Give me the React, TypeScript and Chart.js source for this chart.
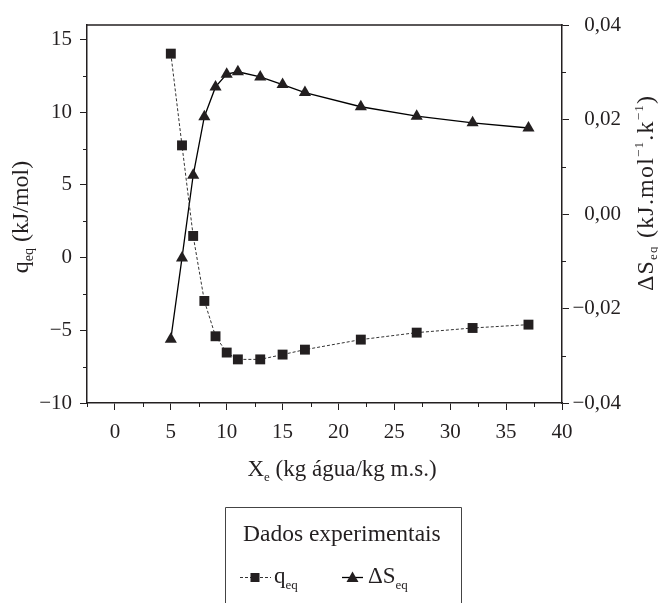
import React, { useEffect, useRef } from "react";
import { Chart, registerables } from "chart.js";

Chart.register(...registerables);

// ---- data ----
const xValues = [5, 6, 7, 8, 9, 10, 11, 13, 15, 17, 22, 27, 32, 37];
const qEq = [14.03, 7.72, 1.49, -2.98, -5.41, -6.53, -7.0, -7.0, -6.67, -6.33, -5.64, -5.16, -4.84, -4.61];
const deltaSeq = [-0.0265, -0.0093, 0.0082, 0.0206, 0.0269, 0.0296, 0.0301, 0.029, 0.0274, 0.0257, 0.0227, 0.0207, 0.0193, 0.0182];

const xTicks = [0, 5, 10, 15, 20, 25, 30, 35, 40];
const xMinorTicks = [-2.5, 2.5, 7.5, 12.5, 17.5, 22.5, 27.5, 32.5, 37.5];
const qTicks = [-10, -5, 0, 5, 10, 15];
const qMinorTicks = [-7.5, -2.5, 2.5, 7.5, 12.5];
const sTicks = [-0.04, -0.02, 0, 0.02, 0.04];
const sMinorTicks = [-0.03, -0.01, 0.01, 0.03];

const FONT = '"Liberation Serif", "Times New Roman", serif';
const INK = "#231f20";

type Seg = { t: string; size: number; dy: number };

function drawRich(
  ctx: CanvasRenderingContext2D,
  segs: Seg[],
  cx: number,
  cy: number,
  rot: number,
  align: "center" | "left" = "center",
  spacing = 0
) {
  ctx.save();
  ctx.translate(cx, cy);
  ctx.rotate(rot);
  (ctx as any).letterSpacing = `${spacing}px`;
  let w = 0;
  segs.forEach((s) => {
    ctx.font = `${s.size}px ${FONT}`;
    w += ctx.measureText(s.t).width;
  });
  let xx = align === "center" ? -w / 2 : 0;
  ctx.textBaseline = "alphabetic";
  ctx.textAlign = "left";
  ctx.fillStyle = INK;
  segs.forEach((s) => {
    ctx.font = `${s.size}px ${FONT}`;
    ctx.fillText(s.t, xx, s.dy);
    xx += ctx.measureText(s.t).width;
  });
  ctx.restore();
}

const decorPlugin = {
  id: "decor",
  afterDraw(chart: any) {
    const ctx: CanvasRenderingContext2D = chart.ctx;
    const { left, right, top, bottom } = chart.chartArea;
    const sx = chart.scales.x;
    const sq = chart.scales.yq;
    const ss = chart.scales.ys;
    ctx.save();
    ctx.strokeStyle = INK;
    // top frame line
    ctx.lineWidth = 1.5;
    ctx.beginPath();
    ctx.moveTo(left - 0.75, top);
    ctx.lineTo(right + 0.75, top);
    ctx.stroke();
    // minor ticks
    ctx.lineWidth = 1;
    ctx.beginPath();
    xMinorTicks.forEach((v) => {
      const p = Math.round(sx.getPixelForValue(v)) + 0.5;
      ctx.moveTo(p, bottom);
      ctx.lineTo(p, bottom + 4);
    });
    qMinorTicks.forEach((v) => {
      const p = Math.round(sq.getPixelForValue(v)) + 0.5;
      ctx.moveTo(left, p);
      ctx.lineTo(left - 4, p);
    });
    sMinorTicks.forEach((v) => {
      const p = Math.round(ss.getPixelForValue(v)) + 0.5;
      ctx.moveTo(right, p);
      ctx.lineTo(right + 4, p);
    });
    ctx.stroke();

    // axis titles
    drawRich(
      ctx,
      [
        { t: "X", size: 23, dy: 0 },
        { t: "e", size: 13, dy: 5 },
        { t: " (kg água/kg m.s.)", size: 23, dy: 0 },
      ],
      342,
      476,
      0
    );
    drawRich(
      ctx,
      [
        { t: "q", size: 24, dy: 0 },
        { t: "eq", size: 14, dy: 5 },
        { t: " (kJ/mol)", size: 24, dy: 0 },
      ],
      28,
      217,
      -Math.PI / 2
    );
    drawRich(
      ctx,
      [
        { t: "ΔS", size: 24, dy: 0 },
        { t: "eq", size: 13, dy: 4 },
        { t: " (kJ.mol", size: 24, dy: 0 },
        { t: "−1", size: 13, dy: -10 },
        { t: ".k", size: 24, dy: 0 },
        { t: "−1", size: 13, dy: -10 },
        { t: ")", size: 24, dy: 0 },
      ],
      653,
      193,
      -Math.PI / 2,
      "center",
      1.2
    );

    // legend box
    ctx.strokeStyle = "#444";
    ctx.lineWidth = 1;
    ctx.beginPath();
    ctx.moveTo(225.5, 612);
    ctx.lineTo(225.5, 507.5);
    ctx.lineTo(461.5, 507.5);
    ctx.lineTo(461.5, 612);
    ctx.stroke();
    drawRich(ctx, [{ t: "Dados experimentais", size: 23.5, dy: 0 }], 243, 541, 0, "left");

    const ly = 577;
    // q sample
    ctx.strokeStyle = "#333";
    ctx.lineWidth = 1;
    ctx.setLineDash([3, 2]);
    ctx.beginPath();
    ctx.moveTo(240, ly + 0.5);
    ctx.lineTo(271, ly + 0.5);
    ctx.stroke();
    ctx.setLineDash([]);
    ctx.fillStyle = INK;
    ctx.fillRect(250.5, ly - 4, 9, 9);
    drawRich(
      ctx,
      [
        { t: "q", size: 23, dy: 0 },
        { t: "eq", size: 13, dy: 6 },
      ],
      274,
      583,
      0,
      "left"
    );
    // deltaS sample
    ctx.strokeStyle = "#000";
    ctx.lineWidth = 1.3;
    ctx.beginPath();
    ctx.moveTo(342, ly + 0.5);
    ctx.lineTo(363, ly + 0.5);
    ctx.stroke();
    ctx.fillStyle = INK;
    ctx.beginPath();
    ctx.moveTo(352.5, ly - 5.5);
    ctx.lineTo(358.5, ly + 5);
    ctx.lineTo(346.5, ly + 5);
    ctx.closePath();
    ctx.fill();
    drawRich(
      ctx,
      [
        { t: "ΔS", size: 23, dy: 0 },
        { t: "eq", size: 13, dy: 6 },
      ],
      368,
      583,
      0,
      "left"
    );
    ctx.restore();
  },
};

const fmtQ = (v: number) => (v < 0 ? "−" + Math.abs(v) : String(v));
const fmtS = (v: number) => (v < -1e-9 ? "−" : "") + Math.abs(v).toFixed(2).replace(".", ",");

export default function App() {
  const ref = useRef<HTMLCanvasElement | null>(null);
  useEffect(() => {
    if (!ref.current) return;
    const tickFont = { family: FONT, size: 21 };
    const grid = { display: true, drawOnChartArea: false, drawTicks: true, tickLength: 7, color: INK, lineWidth: 1 };
    const border = { display: true, color: INK, width: 1.5 };
    const chart = new Chart(ref.current, {
      type: "scatter",
      data: {
        datasets: [
          {
            label: "q_eq",
            data: xValues.map((x, i) => ({ x, y: qEq[i] })),
            yAxisID: "yq",
            showLine: true,
            borderColor: "#333",
            borderWidth: 1,
            borderDash: [3, 2],
            pointStyle: "rect",
            pointRadius: 7,
            pointBackgroundColor: INK,
            pointBorderColor: INK,
            pointBorderWidth: 0,
            tension: 0,
          },
          {
            label: "ΔS_eq",
            data: xValues.map((x, i) => ({ x, y: deltaSeq[i] })),
            yAxisID: "ys",
            showLine: true,
            borderColor: "#000",
            borderWidth: 1.3,
            pointStyle: "triangle",
            pointRadius: 7,
            pointBackgroundColor: INK,
            pointBorderColor: INK,
            pointBorderWidth: 0,
            tension: 0,
          },
        ],
      },
      options: {
        responsive: false,
        animation: false,
        layout: { padding: { top: 25, left: 0, right: 45, bottom: 0 } },
        plugins: { legend: { display: false }, tooltip: { enabled: false } },
        scales: {
          x: {
            type: "linear",
            position: "bottom",
            min: -2.5,
            max: 40,
            afterBuildTicks: (s: any) => {
              s.ticks = xTicks.map((v) => ({ value: v }));
            },
            afterFit: (s: any) => {
              s.height = 208;
            },
            grid,
            border,
            ticks: { font: tickFont, color: INK, padding: 10, maxRotation: 0, autoSkip: false },
          },
          yq: {
            type: "linear",
            position: "left",
            min: -10,
            max: 16,
            afterBuildTicks: (s: any) => {
              s.ticks = qTicks.map((v) => ({ value: v }));
            },
            afterFit: (s: any) => {
              s.width = 87;
            },
            grid,
            border,
            ticks: { font: tickFont, color: INK, padding: 8, autoSkip: false, callback: (v: any) => fmtQ(Number(v)) },
          },
          ys: {
            type: "linear",
            position: "right",
            min: -0.04,
            max: 0.04,
            afterBuildTicks: (s: any) => {
              s.ticks = sTicks.map((v) => ({ value: v }));
            },
            afterFit: (s: any) => {
              s.width = 59;
            },
            grid,
            border,
            ticks: {
              font: tickFont,
              color: INK,
              padding: 4,
              crossAlign: "far",
              autoSkip: false,
              callback: (v: any) => fmtS(Number(v)),
            },
          },
        },
      } as any,
      plugins: [decorPlugin],
    });
    return () => chart.destroy();
  }, []);

  return (
    <div style={{ margin: "-8px", width: 666, height: 611, background: "#fff" }}>
      <canvas ref={ref} width={666} height={611} style={{ display: "block" }} />
    </div>
  );
}
